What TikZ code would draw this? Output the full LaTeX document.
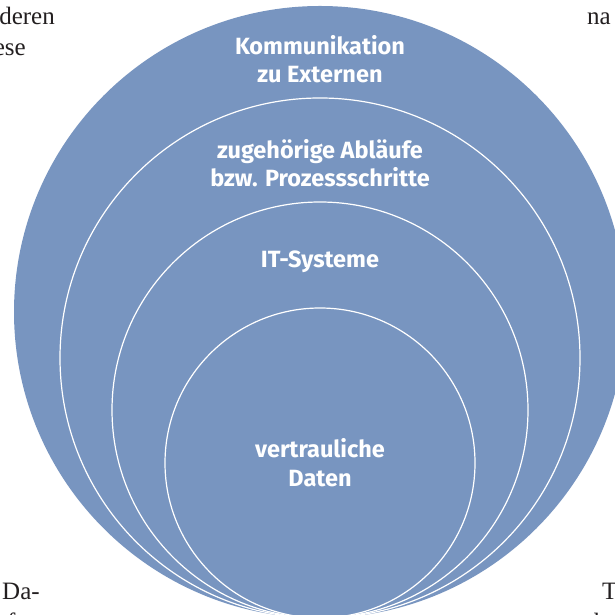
\documentclass[tikz,border=0pt]{standalone}
\usepackage{fontspec}
\setmainfont{Liberation Serif}
\newfontfamily\labelfont{Fira Sans}
\definecolor{ringblue}{RGB}{120,149,192}
\definecolor{pagetext}{RGB}{35,31,32}
\begin{document}
\begin{tikzpicture}[x=1pt,y=1pt,
  ring/.style={fill=ringblue,draw=white,line width=1.2pt},
  ringlabel/.style={text=white,align=center,font=\labelfont\bfseries\fontsize{23.5}{28.5}\selectfont,inner sep=0pt},
  pagefrag/.style={text=pagetext,font=\fontsize{25}{31}\selectfont,inner sep=0pt}]
\useasboundingbox (0,0) rectangle (614,615);
% background page text fragments
\node[pagefrag,anchor=base east] (t1) at (55,590) {deren};
\node[pagefrag,anchor=base east] (t2) at (26,559) {ese};
\node[pagefrag,anchor=base west] (t3) at (587,590) {na};
\node[pagefrag,anchor=base west] (t4) at (2,15) {Da-};
\node[pagefrag,anchor=base west] (t5) at (7,-16) {f};
\node[pagefrag,anchor=base west] (t6) at (602,15) {T};
\node[pagefrag,anchor=base west] (t7) at (594,-16) {b};
% nested circles
\fill[ringblue] (320,303) circle (306);
\path[ring] (320,257) circle (260);
\path[ring] (320,205) circle (208);
\path[ring] (320,152) circle (155);
% labels
\node[ringlabel] (l1) at (320,556) {Kommunikation\\zu Externen};
\node[ringlabel] (l2) at (320,452) {zugehörige Abläufe\\bzw. Prozessschritte};
\node[ringlabel,anchor=base] (l3) at (320,347) {IT-Systeme};
\node[ringlabel] (l4) at (320,152.5) {vertrauliche\\Daten};
\end{tikzpicture}
\end{document}
